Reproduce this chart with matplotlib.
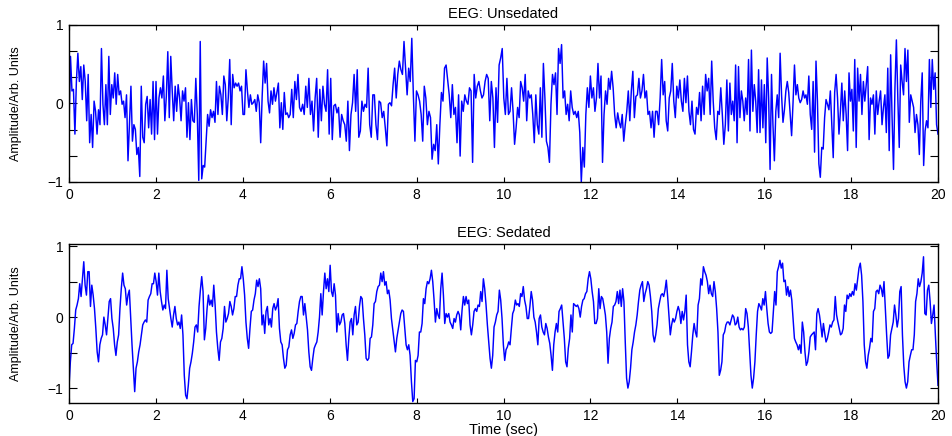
import numpy as np
import matplotlib.pyplot as plt

# time spans (sec) covered by each block of samples below
seg_edges = [0.0, 5.09, 10.15, 15.21, 20.0]

# EEG unsedated, amplitude (arb. units)
unsedated_1 = [-0.31, 0.60, 0.16, 0.18, -0.39, 0.28, 0.64, 0.28, 0.47, 0.05,
               0.49, 0.28, -0.22, 0.37, -0.50, -0.14, -0.56, 0.03, -0.10, -0.39,
               -0.08, -0.27, 0.70, -0.01, -0.27, 0.24, -0.27, 0.60, -0.14, 0.24,
               0.07, 0.39, -0.01, 0.37, 0.11, 0.16, -0.01, 0.03, -0.18, 0.11,
               -0.73, -0.27, 0.22, -0.48, -0.27, -0.33, -0.65, -0.56, -0.93, 0.22,
               -0.43, -0.50, -0.01, 0.09, -0.31, 0.05, -0.39, 0.28, -0.46, 0.28,
               -0.39, 0.07, 0.20, 0.07, 0.35, -0.22, 0.09, 0.66, -0.18, 0.60,
               0.16, -0.22, 0.22, -0.10, 0.24, 0.07, -0.22, 0.16, 0.03, 0.20,
               -0.43, 0.01, -0.46, 0.05, -0.22, -0.24, 0.32, -0.14, -0.98, 0.79,
               -0.96, -0.79, -0.81, -0.48, -0.14, -0.29, -0.08, -0.18, -0.10, -0.24,
               0.28, -0.14, 0.22, 0.11, -0.14, 0.35, 0.24, -0.22, 0.07, 0.56,
               -0.27, 0.37, 0.20, 0.26, 0.22, 0.26, 0.16, 0.22, -0.14, -0.14,
               0.43, 0.16, -0.05, 0.11, -0.01, 0.01, 0.05, -0.10, 0.11, 0.01,
               -0.50, 0.09, 0.54, 0.26, 0.51, 0.03, -0.12, 0.16, -0.01, 0.20,
               0.03, 0.14, 0.26, -0.31, 0.01, -0.33, 0.14, -0.14, -0.12, -0.18]
unsedated_2 = [-0.14, 0.18, -0.18, 0.28, 0.05, 0.37, -0.05, -0.10, -0.01, -0.14,
               0.22, -0.05, 0.32, -0.14, 0.03, -0.35, 0.07, 0.32, -0.43, 0.18,
               -0.22, 0.22, -0.01, -0.10, 0.43, -0.39, 0.32, -0.46, -0.03, -0.01,
               -0.12, -0.05, -0.43, -0.14, -0.22, -0.27, -0.48, 0.03, -0.60, -0.14,
               0.01, 0.37, -0.10, 0.43, -0.43, -0.35, 0.03, -0.10, -0.01, -0.05,
               0.45, -0.27, -0.43, 0.11, 0.11, -0.27, -0.46, 0.03, 0.01, -0.18,
               -0.10, -0.31, -0.54, -0.01, 0.01, -0.03, 0.24, 0.45, 0.07, 0.37,
               0.54, 0.43, 0.37, 0.79, 0.45, 0.11, 0.45, 0.28, 0.83, 0.11,
               -0.48, 0.16, 0.11, 0.03, -0.14, -0.48, 0.22, 0.07, -0.27, -0.10,
               -0.18, -0.71, -0.52, -0.60, -0.27, -0.77, -0.27, 0.14, 0.03, 0.45,
               0.49, 0.30, 0.11, -0.18, 0.24, -0.14, -0.05, -0.50, 0.11, -0.67,
               0.03, -0.10, 0.11, 0.03, -0.01, 0.20, 0.16, -0.75, 0.37, 0.07,
               0.22, 0.28, 0.16, 0.07, 0.11, 0.28, 0.37, 0.32, -0.22, 0.28,
               0.07, -0.56, 0.20, -0.24, 0.49, 0.58, 0.70, 0.07, -0.14, 0.32,
               -0.14]
unsedated_3 = [-0.10, 0.20, -0.10, -0.52, -0.31, -0.05, -0.18, 0.28, 0.20, 0.03,
               0.37, -0.22, 0.16, 0.07, 0.11, -0.14, -0.50, 0.11, -0.27, -0.39,
               0.20, -0.43, 0.51, 0.07, -0.48, -0.56, -0.75, -0.01, 0.37, 0.24,
               0.39, -0.14, 0.70, 0.51, 0.75, 0.07, 0.16, -0.14, -0.01, -0.22,
               0.16, -0.05, -0.14, -0.10, -0.18, -0.10, -0.37, -1.00, -0.56, -0.81,
               -0.14, 0.20, -0.05, 0.35, 0.07, 0.20, -0.10, 0.07, 0.51, 0.07,
               0.35, -0.75, -0.14, 0.16, -0.01, 0.32, 0.18, 0.41, 0.20, -0.14,
               -0.31, -0.12, -0.24, -0.31, -0.14, -0.48, -0.27, -0.10, 0.16, -0.22,
               0.16, 0.41, -0.18, 0.09, 0.11, 0.32, 0.07, 0.16, 0.37, 0.07,
               0.16, -0.14, -0.10, -0.31, -0.10, -0.43, -0.10, -0.10, -0.27, 0.07,
               0.56, 0.11, 0.28, -0.22, -0.35, 0.07, 0.16, 0.51, 0.03, -0.18,
               0.22, 0.07, 0.30, 0.03, -0.10, 0.32, 0.01, 0.35, -0.10, -0.27,
               0.03, -0.33, -0.39, -0.05, -0.14, 0.14, -0.22, 0.22, -0.14, 0.37,
               0.16, 0.32, -0.14, 0.54, 0.03, -0.31, -0.46, -0.10, -0.14, 0.20,
               -0.14, -0.52, -0.27, 0.30, -0.35]
unsedated_4 = [0.26, -0.14, 0.03, -0.22, 0.49, -0.50, 0.47, -0.18, 0.16, 0.03,
               -0.22, 0.07, -0.14, 0.56, -0.35, 0.68, -0.10, 0.24, 0.03, -0.37,
               0.43, -0.37, 0.30, -0.31, 0.24, -0.50, 0.58, 0.07, -0.84, 0.37,
               -0.27, -0.73, -0.10, 0.11, -0.18, 0.64, 0.11, -0.24, -0.08, 0.16,
               0.28, 0.14, -0.14, -0.41, 0.01, 0.49, 0.11, 0.24, 0.07, 0.01,
               0.05, 0.16, 0.07, 0.11, -0.01, 0.35, -0.14, -0.33, 0.28, -0.62,
               0.54, 0.03, -0.77, -0.94, -0.56, -0.58, -0.18, 0.05, -0.01, -0.08,
               0.16, -0.27, -0.69, 0.14, 0.37, 0.07, -0.39, -0.10, 0.26, -0.22,
               0.16, -0.14, -0.60, 0.39, 0.03, 0.18, -0.35, 0.56, -0.56, 0.45,
               0.03, 0.37, -0.14, 0.28, 0.03, 0.24, 0.47, -0.46, 0.07, -0.01,
               0.11, -0.39, 0.16, -0.14, 0.03, 0.16, -0.27, -0.05, 0.11, -0.37,
               0.45, -0.60, 0.62, -0.18, -0.84, 0.20, 0.81, 0.07, -0.56, 0.49,
               0.28, 0.11, 0.70, 0.28, 0.68, -0.24, 0.11, 0.03, -0.05, -0.37,
               -0.14, -0.27, -0.65, 0.03, 0.39, -0.79, -0.35, -0.22, -0.31, 0.56,
               -0.05, 0.56, 0.18, 0.39, -0.27, -0.39]

# EEG sedated, amplitude (arb. units)
sedated_1 = [-0.98, -0.63, -0.39, -0.37, -0.16, 0.10, 0.17, 0.26, 0.47, 0.29,
             0.54, 0.78, 0.45, 0.31, 0.64, 0.64, 0.15, 0.45, 0.31, 0.12,
             -0.16, -0.49, -0.63, -0.39, -0.30, -0.25, 0.00, -0.11, -0.25, -0.02,
             0.22, 0.26, -0.02, -0.16, -0.39, -0.54, -0.35, -0.25, 0.12, 0.40,
             0.62, 0.45, 0.40, 0.17, 0.31, 0.38, -0.02, -0.39, -0.72, -1.05,
             -0.72, -0.63, -0.49, -0.39, -0.25, -0.11, -0.07, -0.04, -0.07, 0.24,
             0.29, 0.33, 0.47, 0.47, 0.62, 0.50, 0.31, 0.62, 0.36, 0.22,
             0.10, 0.17, 0.12, 0.66, 0.26, 0.12, -0.02, -0.14, 0.03, 0.15,
             -0.02, -0.11, -0.07, -0.16, 0.03, -0.25, -0.82, -1.10, -1.15, -0.96,
             -0.72, -0.63, -0.51, -0.35, -0.14, -0.11, -0.21, 0.15, 0.38, 0.57,
             0.36, -0.32, -0.16, 0.12, 0.31, 0.17, 0.24, 0.15, 0.45, 0.17,
             -0.21, -0.44, -0.61, -0.35, -0.30, -0.16, 0.15, -0.07, -0.02, 0.05,
             0.22, 0.15, 0.03, 0.12, 0.29, 0.29, 0.45, 0.54, 0.54, 0.71,
             0.54, 0.31, -0.07, -0.30, -0.44, -0.16, 0.08, 0.10, 0.24, 0.33,
             0.52, 0.43, 0.54, 0.40, -0.11, 0.03, -0.23, 0.08, 0.15, -0.11,
             -0.02, -0.14, 0.12, 0.19, 0.10, 0.15, 0.26, -0.16, -0.35, -0.39,
             -0.58, -0.72, -0.68, -0.46, -0.42]
sedated_2 = [-0.25, -0.18, -0.30, -0.23, -0.11, -0.09, 0.08, 0.22, 0.29, 0.29,
             0.03, 0.19, 0.00, -0.18, -0.49, -0.70, -0.75, -0.58, -0.44, -0.39,
             -0.35, -0.21, 0.00, 0.33, 0.03, 0.36, 0.62, 0.40, 0.54, 0.36,
             0.73, 0.36, 0.29, 0.47, 0.31, -0.21, 0.05, -0.11, -0.07, 0.03,
             0.05, -0.09, -0.39, -0.61, -0.30, -0.07, -0.02, -0.25, 0.03, 0.15,
             -0.11, -0.07, 0.15, 0.29, 0.26, -0.02, -0.25, -0.58, -0.61, -0.58,
             -0.30, -0.28, -0.11, 0.19, 0.22, 0.36, 0.43, 0.45, 0.62, 0.50,
             0.64, 0.45, 0.50, 0.33, 0.38, 0.24, -0.02, -0.18, -0.35, -0.49,
             -0.30, -0.18, -0.07, 0.05, 0.10, 0.08, -0.16, -0.39, -0.46, -0.39,
             -0.54, -0.91, -1.19, -1.15, -0.61, -0.63, -0.54, -0.21, -0.21, -0.09,
             0.26, 0.19, 0.40, 0.50, 0.47, 0.54, 0.66, 0.50, 0.24, -0.07,
             0.12, 0.03, -0.02, 0.40, 0.62, 0.31, -0.09, 0.05, 0.00, 0.05,
             -0.07, -0.11, -0.16, -0.02, -0.07, 0.03, 0.08, 0.03, -0.18, 0.10,
             0.29, 0.17, 0.29, 0.19, 0.24, -0.11, -0.25, -0.11, 0.08, 0.12,
             0.08, 0.17, 0.15, 0.36, 0.22, 0.54, 0.40, 0.17, -0.11, -0.35,
             -0.58, -0.72, -0.54, -0.14, -0.07, 0.03, 0.08, 0.38, 0.24, -0.02,
             -0.39, -0.61, -0.46, -0.42, -0.35]
sedated_3 = [-0.39, -0.16, 0.05, 0.10, 0.24, 0.17, 0.19, 0.15, 0.33, 0.29,
             0.43, 0.24, 0.15, -0.02, -0.02, 0.15, 0.36, 0.24, 0.00, -0.07,
             -0.21, -0.39, -0.02, 0.03, -0.14, -0.21, -0.25, -0.09, -0.16, -0.28,
             -0.37, -0.54, -0.75, -0.39, -0.21, -0.09, -0.21, 0.08, 0.12, 0.17,
             -0.07, -0.30, -0.63, -0.70, -0.44, -0.30, 0.03, -0.21, 0.19, 0.17,
             0.15, 0.17, 0.12, 0.00, 0.15, 0.24, 0.26, 0.33, 0.36, 0.54,
             0.64, 0.54, 0.36, 0.22, -0.09, -0.09, -0.02, 0.40, 0.12, 0.29,
             0.26, 0.15, 0.03, -0.21, -0.65, -0.30, -0.16, -0.07, 0.15, 0.17,
             0.22, 0.36, 0.19, 0.38, 0.15, 0.40, 0.22, -0.35, -0.86, -1.00,
             -0.91, -0.72, -0.46, -0.35, -0.21, -0.11, 0.03, 0.22, 0.38, 0.45,
             0.50, 0.22, 0.33, 0.40, 0.50, 0.45, 0.29, 0.08, -0.25, -0.35,
             -0.25, -0.11, 0.12, 0.22, 0.31, 0.33, 0.29, 0.38, 0.52, 0.29,
             0.03, -0.25, -0.11, -0.02, -0.07, -0.02, 0.08, 0.15, 0.08, -0.09,
             0.08, -0.04, 0.08, 0.31, -0.39, -0.63, -0.70, -0.49, -0.25, -0.09,
             -0.21, -0.28, 0.17, 0.26, 0.54, 0.45, 0.71, 0.64, 0.59, 0.50,
             0.33, 0.45, 0.33, 0.29, 0.50, 0.36, 0.12, -0.21, -0.82, -0.75,
             -0.63, -0.25, -0.21, -0.11, -0.07, -0.07]
sedated_4 = [-0.11, -0.04, 0.03, 0.00, -0.11, -0.09, 0.00, -0.14, -0.18, -0.16,
             -0.18, -0.14, 0.12, 0.05, -0.14, -0.49, -0.82, -1.00, -0.86, -0.63,
             -0.25, 0.08, 0.19, 0.15, 0.10, 0.26, 0.17, 0.36, 0.12, -0.09,
             -0.21, -0.23, -0.21, 0.08, 0.36, 0.17, 0.64, 0.71, 0.80, 0.69,
             0.76, 0.50, 0.52, 0.31, 0.43, 0.29, 0.38, 0.24, -0.02, -0.30,
             -0.35, -0.39, -0.46, -0.39, -0.51, -0.07, -0.21, -0.49, -0.68, -0.63,
             -0.49, -0.28, -0.25, -0.23, -0.21, -0.46, 0.05, 0.12, 0.03, -0.11,
             -0.28, -0.09, -0.23, -0.35, -0.30, -0.21, -0.11, -0.14, -0.07, -0.04,
             0.29, 0.03, -0.07, -0.16, -0.25, -0.23, -0.16, 0.17, 0.08, 0.31,
             0.26, 0.33, 0.29, 0.36, 0.31, 0.47, 0.38, 0.54, 0.69, 0.76,
             0.59, 0.22, -0.39, -0.63, -0.72, -0.54, -0.44, -0.30, -0.35, 0.08,
             0.12, 0.36, 0.38, 0.33, 0.45, 0.40, 0.29, 0.50, 0.12, -0.25,
             -0.58, -0.54, -0.25, -0.16, -0.07, 0.17, 0.03, -0.14, -0.02, 0.36,
             0.43, -0.25, -0.68, -0.91, -1.00, -0.91, -0.63, -0.54, -0.46, -0.46,
             -0.25, 0.22, 0.33, 0.54, 0.43, 0.50, 0.62, 0.85, 0.05, 0.03,
             0.38, 0.45, 0.22, -0.09, 0.03, 0.17, -0.25, -0.63, -0.96]


def join_segments(segments):
    ts, vs = [], []
    for i, seg in enumerate(segments):
        last = i == len(segments) - 1
        ts.append(np.linspace(seg_edges[i], seg_edges[i + 1], len(seg), endpoint=last))
        vs.append(np.asarray(seg))
    return np.concatenate(ts), np.concatenate(vs)


t_un, v_un = join_segments([unsedated_1, unsedated_2, unsedated_3, unsedated_4])
t_se, v_se = join_segments([sedated_1, sedated_2, sedated_3, sedated_4])

plt.rcParams['font.family'] = ['Liberation Sans', 'DejaVu Sans']

fig = plt.figure(figsize=(9.52, 4.36), dpi=100)
ax1 = fig.add_axes([0.0725, 0.5826, 0.9128, 0.3601])
ax2 = fig.add_axes([0.0725, 0.0757, 0.9128, 0.3647])

panels = [
    (ax1, t_un, v_un, 'EEG: Unsedated', (-1, 1), [-2/3, -1/3, 1/3, 2/3]),
    (ax2, t_se, v_se, 'EEG: Sedated', (-1.21, 1.03), [-0.5, 0.5]),
]
for ax, t, v, title, ylim, minors in panels:
    ax.plot(t, v, color='#0000ff', linewidth=1.05)
    ax.set_xlim(0, 20)
    ax.set_ylim(*ylim)
    ax.set_xticks(np.arange(0, 21, 2))
    ax.set_yticks([-1, 0, 1])
    ax.set_yticks(minors, minor=True)
    ax.tick_params(direction='in', which='both', top=True, right=True,
                   labelsize=10, width=0.8, pad=4)
    ax.tick_params(axis='x', length=3.5)
    ax.tick_params(axis='y', which='both', length=5.5)
    for sp in ax.spines.values():
        sp.set_linewidth(1.0)
    ax.set_title(title, fontsize=10.5, pad=5)
    ax.set_ylabel('Amplitude/Arb. Units', fontsize=9)
    ax.yaxis.set_label_coords(-0.054, 0.5)

ax2.set_xlabel('Time (sec)', fontsize=10.5, labelpad=0)

fig.savefig('out.png', dpi=100)
